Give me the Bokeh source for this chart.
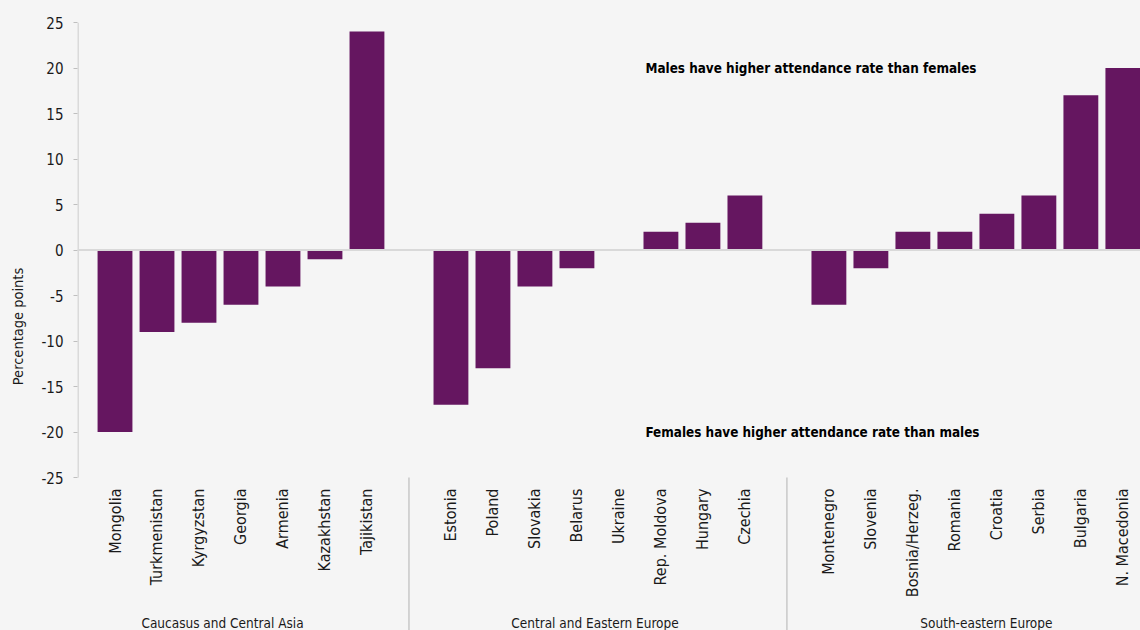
import math
from bokeh.plotting import figure
from bokeh.models import ColumnDataSource, FixedTicker, Range1d, Span
from bokeh.embed import file_html
from bokeh.resources import INLINE
from bokeh.core.properties import value

# ---------------- data ----------------
groups = ["Caucasus and Central Asia", "Central and Eastern Europe", "South-eastern Europe"]

cca_countries = ["Mongolia", "Turkmenistan", "Kyrgyzstan", "Georgia", "Armenia", "Kazakhstan", "Tajikistan"]
cca_values = [-20, -9, -8, -6, -4, -1, 24]

cee_countries = ["Estonia", "Poland", "Slovakia", "Belarus", "Ukraine", "Rep. Moldova", "Hungary", "Czechia"]
cee_values = [-17, -13, -4, -2, 0, 2, 3, 6]

see_countries = ["Montenegro", "Slovenia", "Bosnia/Herzeg.", "Romania", "Croatia", "Serbia", "Bulgaria", "N. Macedonia"]
see_values = [-6, -2, 2, 2, 4, 6, 17, 20]

y_ticks = [-25, -20, -15, -10, -5, 0, 5, 10, 15, 20, 25]
y_tick_labels = ["-25", "-20", "-15", "-10", "-5", "0", "5", "10", "15", "20", "25"]

note_up = "Males have higher attendance rate than females"
note_down = "Females have higher attendance rate than males"
y_title = "Percentage points"

# ---------------- layout ----------------
FONT = "DejaVu Sans Condensed"
BAR = "#651660"
BG = "#F5F5F5"
GRID = "#C8C8C8"
AXIS = "#BFBFBF"

names, vals, xs = [], [], []
separators, group_centers = [], []
pos = 0
for gi, (cs, vs) in enumerate([(cca_countries, cca_values), (cee_countries, cee_values), (see_countries, see_values)]):
    start = pos
    for c, v in zip(cs, vs):
        names.append(c)
        vals.append(v)
        xs.append(pos)
        pos += 1
    group_centers.append((start + pos - 1) / 2)
    if gi < 2:
        separators.append(pos)
        pos += 1
group_label_shift = [-0.44, -0.07, 0.25]
group_x = [c + s for c, s in zip(group_centers, group_label_shift)]

src = ColumnDataSource(dict(x=xs, top=vals, name=names))

x_start, x_end = -0.893, 24.42
y_bottom = -41.8
p = figure(width=1140, height=630, output_backend="svg", toolbar_location=None,
           x_range=Range1d(x_start, x_end), y_range=Range1d(y_bottom, 25),
           background_fill_color=BG, border_fill_color=BG,
           min_border_left=77, min_border_right=0, min_border_top=22, min_border_bottom=0)
p.styles = {"background-color": BG}
p.outline_line_color = None
p.xgrid.visible = False
p.ygrid.visible = False
p.xaxis.visible = False

ax = p.yaxis[0]
ax.ticker = FixedTicker(ticks=y_ticks)
ax.major_label_overrides = {t: s for t, s in zip(y_ticks, y_tick_labels)}
ax.axis_line_color = None
ax.major_tick_line_color = AXIS
ax.major_tick_out = 4
ax.major_tick_in = 0
ax.minor_tick_line_color = None
ax.major_label_standoff = 10
ax.major_label_text_font = FONT
ax.major_label_text_font_size = "15px"
ax.major_label_text_color = "#1a1a1a"
ax.axis_label = y_title
ax.axis_label_text_font = FONT
ax.axis_label_text_font_size = "14.5px"
ax.axis_label_text_font_style = "normal"
ax.axis_label_text_color = "#1a1a1a"
ax.axis_label_standoff = 12

# axis line only from -25 to 25
ax_x = x_start + 0.012
p.segment(x0=[ax_x], y0=[-25], x1=[ax_x], y1=[25], line_color=AXIS, line_width=1)

p.vbar(x="x", top="top", bottom=0, width=0.83, source=src, fill_color=BAR, line_color=None)

p.add_layout(Span(location=0, dimension="width", line_color="#D9D9D9", line_width=2))

# group separators
p.segment(x0=separators, y0=[-25] * len(separators), x1=separators, y1=[y_bottom] * len(separators),
          line_color=GRID, line_width=1.5)

# category labels
p.text(x="x", y=-26.2, text="name", source=src, angle=math.pi / 2,
       text_align="right", text_baseline="middle",
       text_font=value(FONT), text_font_size="16px", text_color="#1a1a1a")

# group labels
p.text(x=group_x, y=[-41.0] * 3, text=groups, text_align="center", text_baseline="middle",
       text_font=value(FONT), text_font_size="13.5px", text_color="#1a1a1a")

# annotations
p.text(x=[12.63, 12.63], y=[20, -20], text=[note_up, note_down], text_align="left",
       text_baseline="middle", text_font=value(FONT), text_font_size="13.4px",
       text_font_style="bold", text_color="#000000")

open("out.html", "w").write(file_html(p, INLINE))
